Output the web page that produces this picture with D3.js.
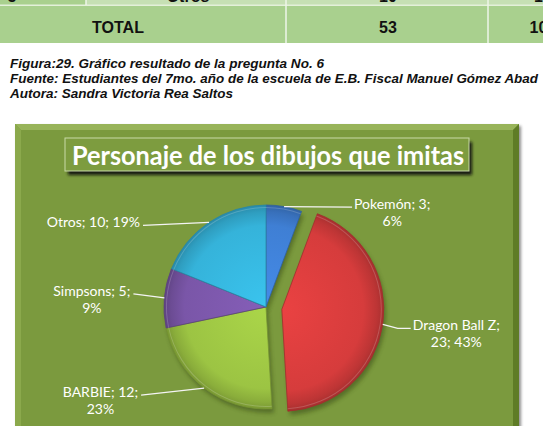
<!DOCTYPE html>
<html><head><meta charset="utf-8">
<script src="https://cdn.jsdelivr.net/npm/d3@7"></script>
<style>body{margin:0;background:#fff;overflow:hidden}</style></head>
<body>
<script>
// ---------- data ----------
const categories = ["Pokemón", "Dragon Ball Z", "BARBIE", "Simpsons", "Otros"];
const values = [3, 23, 12, 5, 10];
const percents = ["6%", "43%", "23%", "9%", "19%"];
const sliceColors = ["#3f7fd4", "#d63c3c", "#9cc443", "#7a56a8", "#35b3da"];
const tableTopRow = ["5", "Otros", "10", "19%"];
const tableTotalRow = ["TOTAL", "53", "100%"];
const captionLines = [
  "Figura:29. Gráfico resultado de la pregunta No. 6",
  "Fuente: Estudiantes del 7mo. año de la escuela de E.B. Fiscal Manuel Gómez Abad",
  "Autora: Sandra Victoria Rea Saltos"
];
const chartTitle = "Personaje de los dibujos que imitas";

// ---------- layout ----------
const W = 543, H = 426;
const labelBreak = [2, 1, 2, 2, 3];       // parts on first line
const labelDx = [68, 28, -63, -31, -66];  // leader length
const labelDy = [0.5, 4, 7, -4, 3];
const explode = [0, 16, 0, 0, 0];

const svg = d3.select("body").append("svg").attr("width", W).attr("height", H);
const defs = svg.append("defs");

// ---------- table ----------
const tbl = svg.append("g");
tbl.append("rect").attr("x", 0).attr("y", 0).attr("width", 86).attr("height", 5).attr("fill", "#a9d08e");
tbl.append("rect").attr("x", 86).attr("y", 0).attr("width", W - 86).attr("height", 5).attr("fill", "#c6e0b4");
tbl.append("rect").attr("x", 0).attr("y", 6).attr("width", W).attr("height", 37).attr("fill", "#a9d08e");
tbl.append("line").attr("x1", 0).attr("x2", W).attr("y1", 5.2).attr("y2", 5.2).attr("stroke", "#e4f0da").attr("stroke-width", 1.5);
[[86, 0, 5], [286, 0, 43], [488, 0, 43]].forEach(([x, y1, y2]) =>
  tbl.append("line").attr("x1", x).attr("x2", x).attr("y1", y1).attr("y2", y2).attr("stroke", "#eef6e8").attr("stroke-width", 1.5));
const topX = [12, 188, 388, 550];
tableTopRow.forEach((t, i) => tbl.append("text").attr("x", topX[i]).attr("y", 2).attr("text-anchor", "middle")
  .attr("font-family", "Liberation Sans, Arial").attr("font-weight", "bold").attr("font-size", 16).attr("fill", "#111").text(t));
const totX = [118, 388, 550];
tableTotalRow.forEach((t, i) => tbl.append("text").attr("x", totX[i]).attr("y", 33).attr("text-anchor", "middle")
  .attr("font-family", "Liberation Sans, Arial").attr("font-weight", "bold").attr("font-size", 16).attr("fill", "#111").text(t));

// ---------- captions ----------
const capW = [314, 528, 223];
captionLines.forEach((t, i) => svg.append("text").attr("x", 10).attr("y", 68 + i * 15)
  .attr("font-family", "Liberation Sans, Arial").attr("font-weight", "bold").attr("font-style", "italic")
  .attr("font-size", 12).attr("fill", "#111").attr("textLength", capW[i]).attr("lengthAdjust", "spacingAndGlyphs").text(t));

// ---------- chart frame ----------
const bx = 15, by = 124, bw = 504, bh = 320, bev = 6;
const blur = defs.append("filter").attr("id", "blur").attr("x", "-20%").attr("y", "-20%").attr("width", "140%").attr("height", "140%");
blur.append("feGaussianBlur").attr("stdDeviation", 2);
const blur2 = defs.append("filter").attr("id", "blur2").attr("x", "-20%").attr("y", "-20%").attr("width", "140%").attr("height", "140%");
blur2.append("feGaussianBlur").attr("stdDeviation", 1.5);
svg.append("rect").attr("x", bx + 2).attr("y", by + 2).attr("width", bw).attr("height", bh).attr("fill", "#444").attr("opacity", 0.6).attr("filter", "url(#blur2)");
svg.append("rect").attr("x", bx).attr("y", by).attr("width", bw).attr("height", bh).attr("fill", "#7b9a3e");
const poly = (pts, fill) => svg.append("polygon").attr("points", pts.map(p => p.join(",")).join(" ")).attr("fill", fill);
poly([[bx, by], [bx + bw, by], [bx + bw - bev, by + bev], [bx + bev, by + bev]], "#98b45a");
poly([[bx, by], [bx + bev, by + bev], [bx + bev, by + bh], [bx, by + bh]], "#8ba94c");
poly([[bx + bw, by], [bx + bw, by + bh], [bx + bw - bev, by + bh], [bx + bw - bev, by + bev]], "#5f7c26");

// ---------- title ----------
svg.append("rect").attr("x", 68).attr("y", 142).attr("width", 404).attr("height", 33).attr("fill", "#111").attr("opacity", 0.9).attr("filter", "url(#blur2)");
svg.append("rect").attr("x", 65).attr("y", 138).attr("width", 404).attr("height", 33).attr("fill", "#7d9c3f").attr("stroke", "#c9d9a8").attr("stroke-width", 1);
svg.append("text").attr("x", 72).attr("y", 165).attr("font-family", "Lato, Open Sans").attr("font-weight", "bold")
  .attr("font-size", 27).attr("fill", "#fff").attr("textLength", 392).attr("lengthAdjust", "spacingAndGlyphs").text(chartTitle);

// ---------- pie ----------
const cx = 266, cy = 307, R = 102;
const pie = d3.pie().sort(null).value(d => d)(values);
const arc = d3.arc().innerRadius(0).outerRadius(R);
const g = svg.append("g").attr("transform", `translate(${cx},${cy})`);

sliceColors.forEach((c, i) => {
  const base = d3.color(c);
  const gr = defs.append("radialGradient").attr("id", "sg" + i).attr("gradientUnits", "userSpaceOnUse")
    .attr("cx", 0).attr("cy", 0).attr("r", R);
  gr.append("stop").attr("offset", "0%").attr("stop-color", base.brighter(0.25));
  gr.append("stop").attr("offset", "80%").attr("stop-color", base);
  gr.append("stop").attr("offset", "93%").attr("stop-color", base.darker(0.35));
  gr.append("stop").attr("offset", "100%").attr("stop-color", base.darker(0.7));
});

const off = (d, i) => {
  const a = (d.startAngle + d.endAngle) / 2;
  return [Math.sin(a) * explode[i], -Math.cos(a) * explode[i]];
};
// shadow
g.selectAll("path.sh").data(pie).join("path").attr("class", "sh")
  .attr("transform", (d, i) => { const o = off(d, i); return `translate(${o[0] + 2},${o[1] + 4})`; })
  .attr("d", arc).attr("fill", "#2a3a10").attr("opacity", 0.45).attr("filter", "url(#blur)");
// slices
g.selectAll("path.sl").data(pie).join("path").attr("class", "sl")
  .attr("transform", (d, i) => { const o = off(d, i); return `translate(${o[0]},${o[1]})`; })
  .attr("d", arc).attr("fill", (d, i) => `url(#sg${i})`)
  .attr("stroke", (d, i) => d3.color(sliceColors[i]).darker(0.8)).attr("stroke-width", 0.8).attr("stroke-linejoin", "round");
// highlight rim
const rim = d3.arc().innerRadius(R - 3).outerRadius(R - 2);
g.selectAll("path.rim").data(pie).join("path").attr("class", "rim")
  .attr("transform", (d, i) => { const o = off(d, i); return `translate(${o[0]},${o[1]})`; })
  .attr("d", rim).attr("fill", "#fff").attr("opacity", 0.18);

// ---------- labels ----------
const lab = svg.append("g").attr("font-family", "Lato, Open Sans").attr("font-size", 14).attr("fill", "#fff");
pie.forEach((d, i) => {
  const a = (d.startAngle + d.endAngle) / 2;
  const o = off(d, i);
  const sx = cx + o[0] + Math.sin(a) * R, sy = cy + o[1] - Math.cos(a) * R;
  const ex = sx + labelDx[i], ey = sy + labelDy[i];
  const right = labelDx[i] > 0;
  const path = i === 1 ? [[sx, sy], [sx + 15, ey], [ex, ey]] : [[sx, sy], [ex, ey]];
  lab.append("path").attr("d", d3.line()(path)).attr("fill", "none").attr("stroke", "#f4f4f4").attr("stroke-width", 1.2);
  const parts = [categories[i], String(values[i]), percents[i]];
  const k = labelBreak[i];
  const l1 = parts.slice(0, k).join("; ") + (k < 3 ? ";" : "");
  const l2 = parts.slice(k).join("; ");
  const t1 = lab.append("text").attr("x", right ? ex + 2 : ex - 3).attr("y", ey + 2)
    .attr("text-anchor", right ? "start" : "end").text(l1);
  if (l2) {
    const w = t1.node().getComputedTextLength();
    const mid = right ? ex + 2 + w / 2 : ex - 3 - w / 2;
    lab.append("text").attr("x", mid).attr("y", ey + 19).attr("text-anchor", "middle").text(l2);
  }
});
</script>
</body></html>
